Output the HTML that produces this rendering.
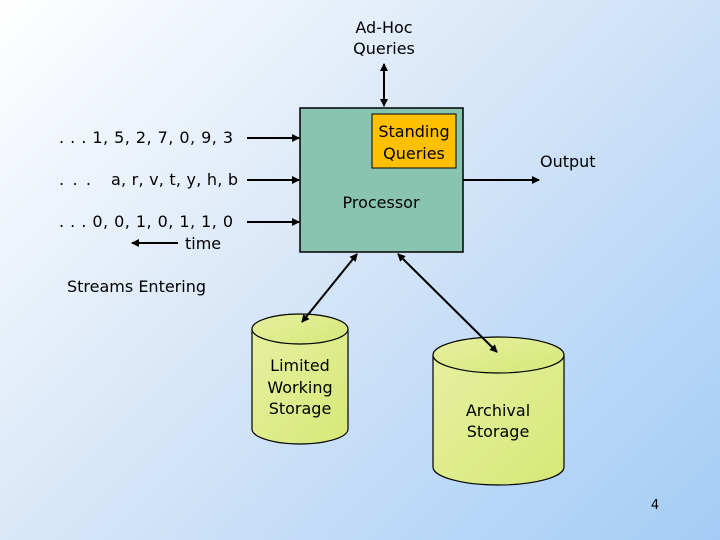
<!DOCTYPE html>
<html><head><style>
body{margin:0;width:720px;height:540px;overflow:hidden;background:linear-gradient(135deg,#ffffff 0%,#dce9f8 40%,#a4ccf6 100%);font-family:"DejaVu Sans","Liberation Sans",sans-serif;}
svg{position:absolute;left:0;top:0}
text{font-family:"DejaVu Sans","Liberation Sans",sans-serif;font-size:16px;fill:#000}
</style></head><body>
<svg width="720" height="540" viewBox="0 0 720 540">
<defs>
<marker id="a" markerWidth="8" markerHeight="8" refX="7" refY="4" orient="auto-start-reverse" markerUnits="userSpaceOnUse"><path d="M0,0 L8,4 L0,8 z" fill="#000"/></marker>
<linearGradient id="cy" x1="0" y1="0" x2="1" y2="1"><stop offset="0" stop-color="#e6f0a0"/><stop offset="1" stop-color="#d6e878"/></linearGradient>
</defs>
<rect x="300" y="108" width="163" height="144" fill="#88c4b0" stroke="#000" stroke-width="1.5"/>
<rect x="372" y="114" width="84" height="54" fill="#ffc000" stroke="#000" stroke-width="1"/>
<text x="414" y="137" text-anchor="middle">Standing</text>
<text x="414" y="159" text-anchor="middle">Queries</text>
<text x="381" y="208" text-anchor="middle">Processor</text>
<text x="384" y="33" text-anchor="middle">Ad-Hoc</text>
<text x="384" y="54" text-anchor="middle">Queries</text>
<g stroke="#000" stroke-width="1.2" fill="url(#cy)">
<path d="M252,329 L252,429 A48,15 0 0 0 348,429 L348,329"/>
<ellipse cx="300" cy="329" rx="48" ry="15"/>
<path d="M433,355 L433,467 A65.5,18 0 0 0 564,467 L564,355"/>
<ellipse cx="498.5" cy="355" rx="65.5" ry="18"/>
</g>
<g stroke="#000" stroke-width="2" fill="none">
<line x1="384" y1="64" x2="384" y2="106" marker-start="url(#a)" marker-end="url(#a)"/>
<line x1="247" y1="138" x2="299" y2="138" marker-end="url(#a)"/>
<line x1="247" y1="180" x2="299" y2="180" marker-end="url(#a)"/>
<line x1="247" y1="222" x2="299" y2="222" marker-end="url(#a)"/>
<line x1="463" y1="180" x2="539" y2="180" marker-end="url(#a)"/>
<line x1="178" y1="243" x2="132" y2="243" marker-end="url(#a)"/>
<line x1="357" y1="254" x2="302" y2="322" marker-start="url(#a)" marker-end="url(#a)"/>
<line x1="398" y1="254" x2="497" y2="352" marker-start="url(#a)" marker-end="url(#a)"/>
</g>
<text x="59" y="143" textLength="174" lengthAdjust="spacing">. . . 1, 5, 2, 7, 0, 9, 3</text>
<text x="59" y="185" textLength="32" lengthAdjust="spacing">. . .</text>
<text x="111" y="185" textLength="127" lengthAdjust="spacing">a, r, v, t, y, h, b</text>
<text x="59" y="227" textLength="174" lengthAdjust="spacing">. . . 0, 0, 1, 0, 1, 1, 0</text>
<text x="185" y="249">time</text>
<text x="540" y="167">Output</text>
<text x="67" y="292">Streams Entering</text>
<text x="300" y="371" text-anchor="middle">Limited</text>
<text x="300" y="393" text-anchor="middle">Working</text>
<text x="300" y="414" text-anchor="middle">Storage</text>
<text x="498" y="416" text-anchor="middle">Archival</text>
<text x="498" y="437" text-anchor="middle">Storage</text>
<text x="655" y="509" text-anchor="middle" style="font-size:13px">4</text>
</svg>
</body></html>
